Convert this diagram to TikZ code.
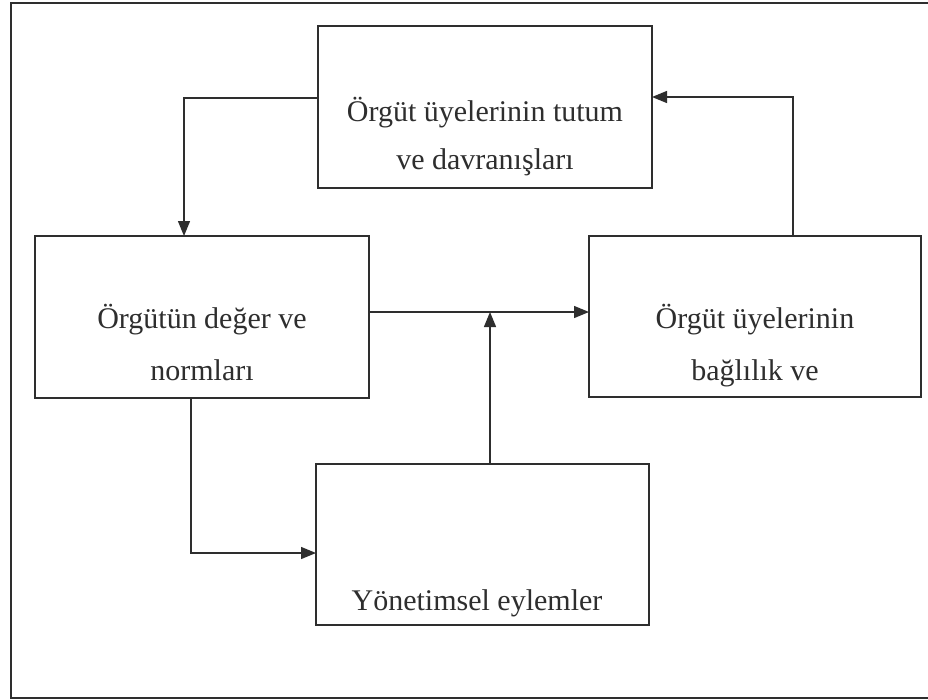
\documentclass[tikz,border=0pt]{standalone}
\usepackage{fontspec}
\setmainfont{Liberation Serif}
\usetikzlibrary{arrows.meta}
\definecolor{ink}{HTML}{2E2E2E}
\begin{document}
\begin{tikzpicture}[x=1pt,y=-1pt,
  box/.style={draw=ink,line width=1.4pt,outer sep=0pt,inner sep=0pt},
  label/.style={anchor=base,text=ink,font=\fontsize{30}{36}\selectfont},
  arr/.style={draw=ink,line width=1.3pt,-{Triangle[length=15pt,width=12pt]}}]
\useasboundingbox (0,0) rectangle (928,699);
\fill[white] (0,0) rectangle (928,699);
% outer frame
\draw[ink,line width=1.6pt] (928,3) -- (11,3) -- (11,698) -- (928,698);
% boxes
\node[box,minimum width=334pt,minimum height=162pt] (top) at (485,107) {};
\node[box,minimum width=334pt,minimum height=162pt] (left) at (202,317) {};
\node[box,minimum width=332pt,minimum height=161pt] (right) at (755,316.5) {};
\node[box,minimum width=333pt,minimum height=161pt] (bottom) at (482.5,544.5) {};
% labels
\node[label] (t1) at (485,121) {Örgüt üyelerinin tutum};
\node[label] (t2) at (485,169) {ve davranışları};
\node[label] (l1) at (202,328) {Örgütün değer ve};
\node[label] (l2) at (202,380) {normları};
\node[label] (r1) at (755,328) {Örgüt üyelerinin};
\node[label] (r2) at (755,380) {bağlılık ve};
\node[label] (b1) at (477,610) {Yönetimsel eylemler};
% connectors
\draw[arr] ([yshift=9pt]top.west) -| ([xshift=-18pt]left.north);
\draw[arr] ([xshift=38pt]right.north) |- ([yshift=10pt]top.east);
\coordinate (m) at ([yshift=5pt]left.east);
\draw[arr] (m) -- (m -| right.west);
\draw[arr] ([xshift=7.5pt]bottom.north) -- ([xshift=7.5pt]bottom.north |- m);
\draw[arr] ([xshift=-11pt]left.south) |- ([yshift=-8.5pt]bottom.west);
\end{tikzpicture}
\end{document}
